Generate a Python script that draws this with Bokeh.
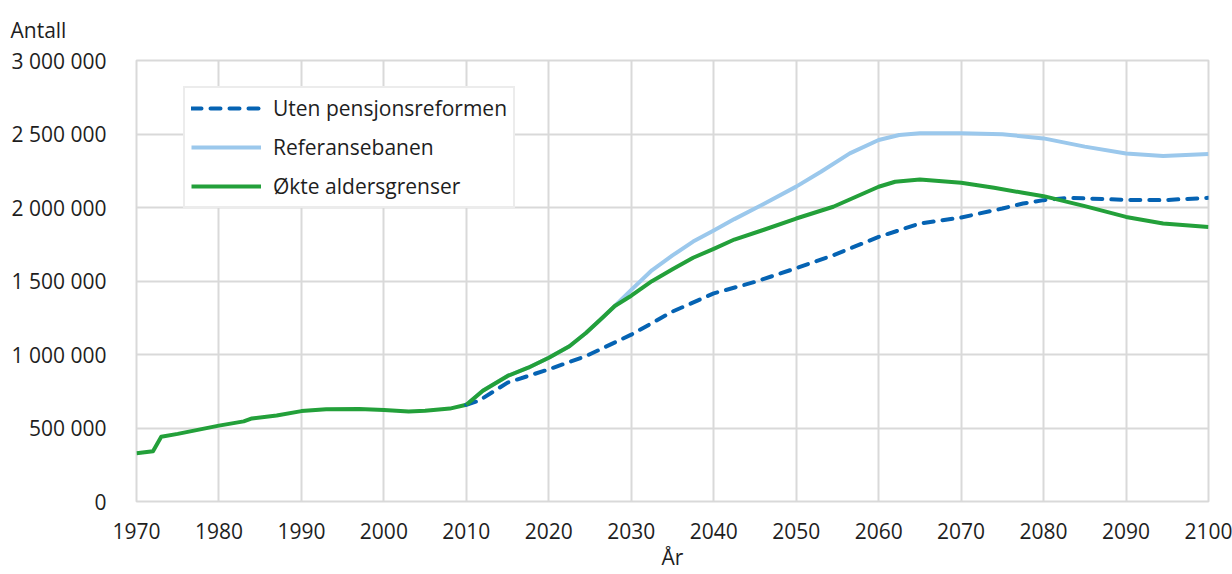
from bokeh.plotting import figure
from bokeh.models import Legend, LegendItem, FixedTicker
from bokeh.embed import file_html
from bokeh.resources import INLINE

# ---- data ----
hist_years = [1970, 1971, 1972, 1973, 1975, 1980, 1983, 1984, 1987, 1990, 1993,
              1997, 2000, 2003, 2005, 2008, 2010]
hist_vals = [328000, 335000, 342000, 441000, 460000, 516000, 545000, 565000, 585000,
             615000, 627000, 630000, 622000, 613000, 617000, 632000, 658000]

uten_years = [2010, 2011.5, 2015, 2020, 2024.5, 2030, 2035, 2040, 2045, 2048, 2050,
              2054.5, 2060, 2065, 2070, 2075, 2077.5, 2080, 2083, 2090, 2094.5, 2100]
uten = [658000, 685000, 809000, 899000, 989000, 1135000, 1292000, 1416000, 1494000,
        1550000, 1587000, 1675000, 1800000, 1891000, 1932000, 1993000, 2027000,
        2050000, 2066000, 2052000, 2050000, 2066000]

ref_years = [2010, 2012, 2015, 2017.5, 2020, 2022.5, 2024.5, 2026.5, 2028, 2030,
             2032.5, 2035, 2037.5, 2040, 2042.5, 2046, 2050, 2053, 2056.5, 2060,
             2062.5, 2065, 2070, 2075, 2080, 2085, 2090, 2094.5, 2100]
referanse = [658000, 753000, 854000, 910000, 978000, 1056000, 1146000, 1250000,
             1330000, 1440000, 1573000, 1674000, 1768000, 1843000, 1921000, 2022000,
             2142000, 2243000, 2368000, 2459000, 2493000, 2505000, 2505000, 2498000,
             2470000, 2414000, 2368000, 2350000, 2364000]

okte_years = [2010, 2012, 2015, 2017.5, 2020, 2022.5, 2024.5, 2026.5, 2028, 2030,
              2032.5, 2035, 2037.5, 2040, 2042.5, 2046, 2050, 2054.5, 2060, 2062,
              2065, 2070, 2074, 2077.5, 2080, 2085, 2090, 2094.5, 2100]
okte = [658000, 753000, 854000, 910000, 978000, 1056000, 1146000, 1250000, 1330000,
        1400000, 1499000, 1580000, 1658000, 1719000, 1782000, 1847000, 1925000,
        2005000, 2141000, 2175000, 2191000, 2168000, 2134000, 2100000, 2077000,
        2009000, 1936000, 1891000, 1868000]

x_ticks = list(range(1970, 2101, 10))
y_ticks = [0, 500000, 1000000, 1500000, 2000000, 2500000, 3000000]
y_labels = ["0", "500 000", "1 000 000", "1 500 000", "2 000 000", "2 500 000", "3 000 000"]

series_names = ["Uten pensjonsreformen", "Referansebanen", "Økte aldersgrenser"]
c_uten = "#0563B3"
c_ref = "#9BC8EC"
c_okte = "#23A03A"
grid_c = "#d9d9d9"
txt_c = "#1e1e1e"
FONT = "Open Sans"
FS = "21px"

p = figure(width=1232, height=574, output_backend="svg", toolbar_location=None,
           x_range=(1970, 2100), y_range=(0, 3000000),
           min_border_left=136, min_border_right=24, min_border_top=59,
           min_border_bottom=73, title="Antall")
p.outline_line_color = grid_c
p.outline_line_width = 2
p.background_fill_color = "white"
p.border_fill_color = "white"

p.title.align = "left"
p.title.offset = -126
p.title.standoff = 30
p.title.vertical_align = "top"
p.title.text_font = FONT
p.title.text_font_size = FS
p.title.text_font_style = "normal"
p.title.text_color = txt_c

for g in (p.xgrid, p.ygrid):
    g.grid_line_color = grid_c
    g.grid_line_width = 2
p.xaxis.ticker = FixedTicker(ticks=x_ticks)
p.yaxis.ticker = FixedTicker(ticks=y_ticks)
p.yaxis.major_label_overrides = {t: l for t, l in zip(y_ticks, y_labels)}

for ax in (p.xaxis, p.yaxis):
    ax.axis_line_color = None
    ax.major_tick_line_color = None
    ax.minor_tick_line_color = None
    ax.major_label_text_font = FONT
    ax.major_label_text_font_size = FS
    ax.major_label_text_color = txt_c
p.yaxis.major_label_standoff = 24
p.xaxis.major_label_standoff = 15
p.xaxis.axis_label = "År"
p.xaxis.axis_label_text_font = FONT
p.xaxis.axis_label_text_font_size = FS
p.xaxis.axis_label_text_font_style = "normal"
p.xaxis.axis_label_text_color = txt_c
p.xaxis.axis_label_standoff = 1

# historical part (shared by all three series)
p.line(hist_years, hist_vals, line_color=c_okte, line_width=4, line_join="round")
r_ref = p.line(ref_years, referanse, line_color=c_ref, line_width=4, line_join="round")
r_uten = p.line(uten_years, uten, line_color=c_uten, line_width=4, line_dash="10 9",
                line_cap="round", line_join="round")
r_okte = p.line(okte_years, okte, line_color=c_okte, line_width=4, line_join="round")

legend = Legend(items=[LegendItem(label=series_names[0], renderers=[r_uten]),
                       LegendItem(label=series_names[1], renderers=[r_ref]),
                       LegendItem(label=series_names[2], renderers=[r_okte])],
                location=(47, 293), orientation="vertical")
legend.label_text_font = FONT
legend.label_text_font_size = FS
legend.label_text_color = txt_c
legend.glyph_width = 70
legend.glyph_height = 22
legend.label_height = 22
legend.spacing = 11
legend.padding = 6
legend.margin = 0
legend.label_standoff = 12
legend.border_line_color = grid_c
legend.border_line_width = 2
legend.background_fill_color = "white"
legend.background_fill_alpha = 1
p.add_layout(legend, "center")

open("out.html", "w").write(file_html(p, INLINE))
